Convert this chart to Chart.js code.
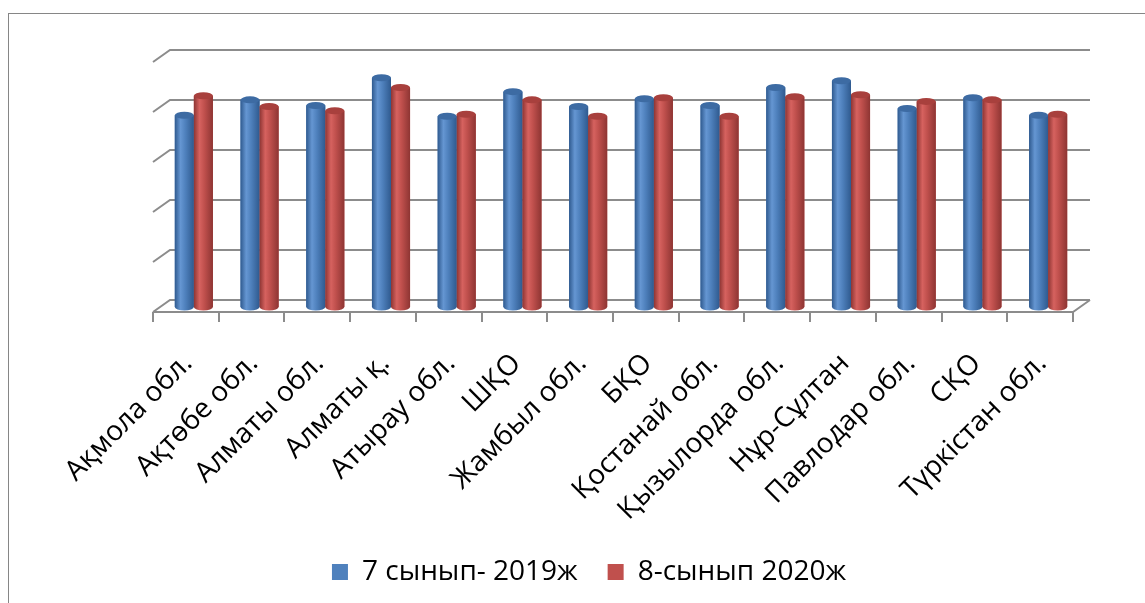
<!DOCTYPE html>
<html>
<head>
<meta charset="utf-8">
<script src="https://cdn.jsdelivr.net/npm/chart.js@4/dist/chart.umd.min.js"></script>
<style>
  html, body { margin: 0; padding: 0; background: #fff; overflow: hidden; }
  #wrap { position: relative; width: 1145px; height: 603px; }
  #frame { position: absolute; left: 8px; top: 13px; width: 1300px; height: 800px; border: 1px solid #868686; }
  #chart { position: absolute; left: 0; top: 0; }
</style>
</head>
<body>
<div id="wrap">
  <div id="frame"></div>
  <canvas id="chart" width="1145" height="603"></canvas>
</div>
<script>
const categories = ['Ақмола обл.', 'Ақтөбе обл.', 'Алматы обл.', 'Алматы қ.', 'Атырау обл.', 'ШҚО', 'Жамбыл обл.',
  'БҚО', 'Қостанай обл.', 'Қызылорда обл.', 'Нұр-Сұлтан', 'Павлодар обл.', 'СҚО', 'Түркістан обл.'];
const grade7 = [3.73, 4.03, 3.92, 4.46, 3.71, 4.19, 3.90, 4.05, 3.92, 4.27, 4.40, 3.86, 4.07, 3.73];
const grade8 = [4.11, 3.90, 3.82, 4.27, 3.75, 4.03, 3.71, 4.07, 3.71, 4.09, 4.13, 4.00, 4.03, 3.75];
const yTicks = [0, 1, 2, 3, 4, 5];

const DX = 17, DY = 12; // 3d depth of the floor / walls

// back wall grid, slanted side lines and the floor
const wallPlugin = {
    id: 'wall',
    beforeDatasetsDraw(chart) {
        const { ctx, chartArea: a, scales: { y } } = chart;
        const left = a.left - 8, right = a.right - 8;
        const floorY = a.bottom + 5;
        const backBottom = floorY - DY;
        ctx.save();
        ctx.strokeStyle = '#8c8c8c';
        ctx.lineWidth = 2;
        yTicks.forEach(v => {
            const t = (y.getPixelForValue(v) - a.top) / (a.bottom - a.top);
            const gy = a.top + t * (backBottom - a.top);
            ctx.beginPath();
            ctx.moveTo(left, gy + DY);
            ctx.lineTo(left + DX, gy);
            ctx.lineTo(right + DX, gy);
            ctx.stroke();
        });
        // floor front edge + right side
        ctx.beginPath();
        ctx.moveTo(left, floorY);
        ctx.lineTo(right, floorY);
        ctx.lineTo(right + DX, backBottom);
        ctx.stroke();
        // category ticks
        const step = (right - left) / categories.length;
        for (let i = 0; i <= categories.length; i++) {
            const x = Math.round(left + i * step);
            ctx.beginPath();
            ctx.moveTo(x, floorY);
            ctx.lineTo(x, floorY + 10);
            ctx.stroke();
        }
        ctx.restore();
    }
};

// cylinder shading on top of each bar
const tones = [
    { dark: '#2f5a8f', mid: '#4f81bd', light: '#6596d2', top: '#3d6ba3' },
    { dark: '#8e3533', mid: '#c0504d', light: '#d6625f', top: '#a8403d' }
];
const cylinderPlugin = {
    id: 'cylinder',
    afterDatasetsDraw(chart) {
        const ctx = chart.ctx;
        chart.data.datasets.forEach((ds, di) => {
            const tone = tones[di];
            chart.getDatasetMeta(di).data.forEach(bar => {
                const { x, y, base, width } = bar.getProps(['x', 'y', 'base', 'width'], true);
                const l = x - width / 2, r = x + width / 2;
                const ry = 3.5;
                const g = ctx.createLinearGradient(l, 0, r, 0);
                g.addColorStop(0, tone.dark);
                g.addColorStop(0.3, tone.light);
                g.addColorStop(0.55, tone.mid);
                g.addColorStop(1, tone.dark);
                ctx.save();
                ctx.fillStyle = g;
                ctx.beginPath();
                ctx.moveTo(l, y);
                ctx.lineTo(l, base);
                ctx.ellipse(x, base, width / 2, ry, 0, Math.PI, 0, true);
                ctx.lineTo(r, y);
                ctx.closePath();
                ctx.fill();
                ctx.fillStyle = tone.top;
                ctx.beginPath();
                ctx.ellipse(x, y, width / 2, ry, 0, 0, Math.PI * 2);
                ctx.fill();
                ctx.restore();
            });
        });
    }
};

new Chart(document.getElementById('chart'), {
    type: 'bar',
    data: {
        labels: categories,
        datasets: [
            { label: '7 сынып- 2019ж', data: grade7, backgroundColor: '#4f81bd' },
            { label: '8-сынып 2020ж', data: grade8, backgroundColor: '#c0504d' }
        ]
    },
    options: {
        responsive: false,
        animation: false,
        layout: { padding: { left: 97, right: 64, top: 50, bottom: 7 } },
        plugins: {
            legend: {
                position: 'bottom',
                labels: {
                    boxWidth: 16,
                    boxHeight: 16,
                    padding: 30,
                    color: '#000',
                    font: { family: 'Open Sans', size: 28 }
                }
            },
            tooltip: { enabled: false }
        },
        datasets: {
            bar: { categoryPercentage: 0.58, barPercentage: 1 }
        },
        scales: {
            x: {
                grid: { display: false, drawTicks: false },
                border: { display: false },
                ticks: {
                    autoSkip: false,
                    minRotation: 45,
                    maxRotation: 45,
                    padding: 40,
                    labelOffset: -6,
                    color: '#000',
                    font: { family: 'Open Sans', size: 28 }
                },
                afterFit(scale) { scale.height = 221; }
            },
            y: {
                min: 0,
                max: 5,
                grid: { display: false, drawTicks: false },
                border: { display: false },
                ticks: { display: false },
                afterFit(scale) { scale.width = 64; }
            }
        }
    },
    plugins: [wallPlugin, cylinderPlugin]
});
</script>
</body>
</html>
